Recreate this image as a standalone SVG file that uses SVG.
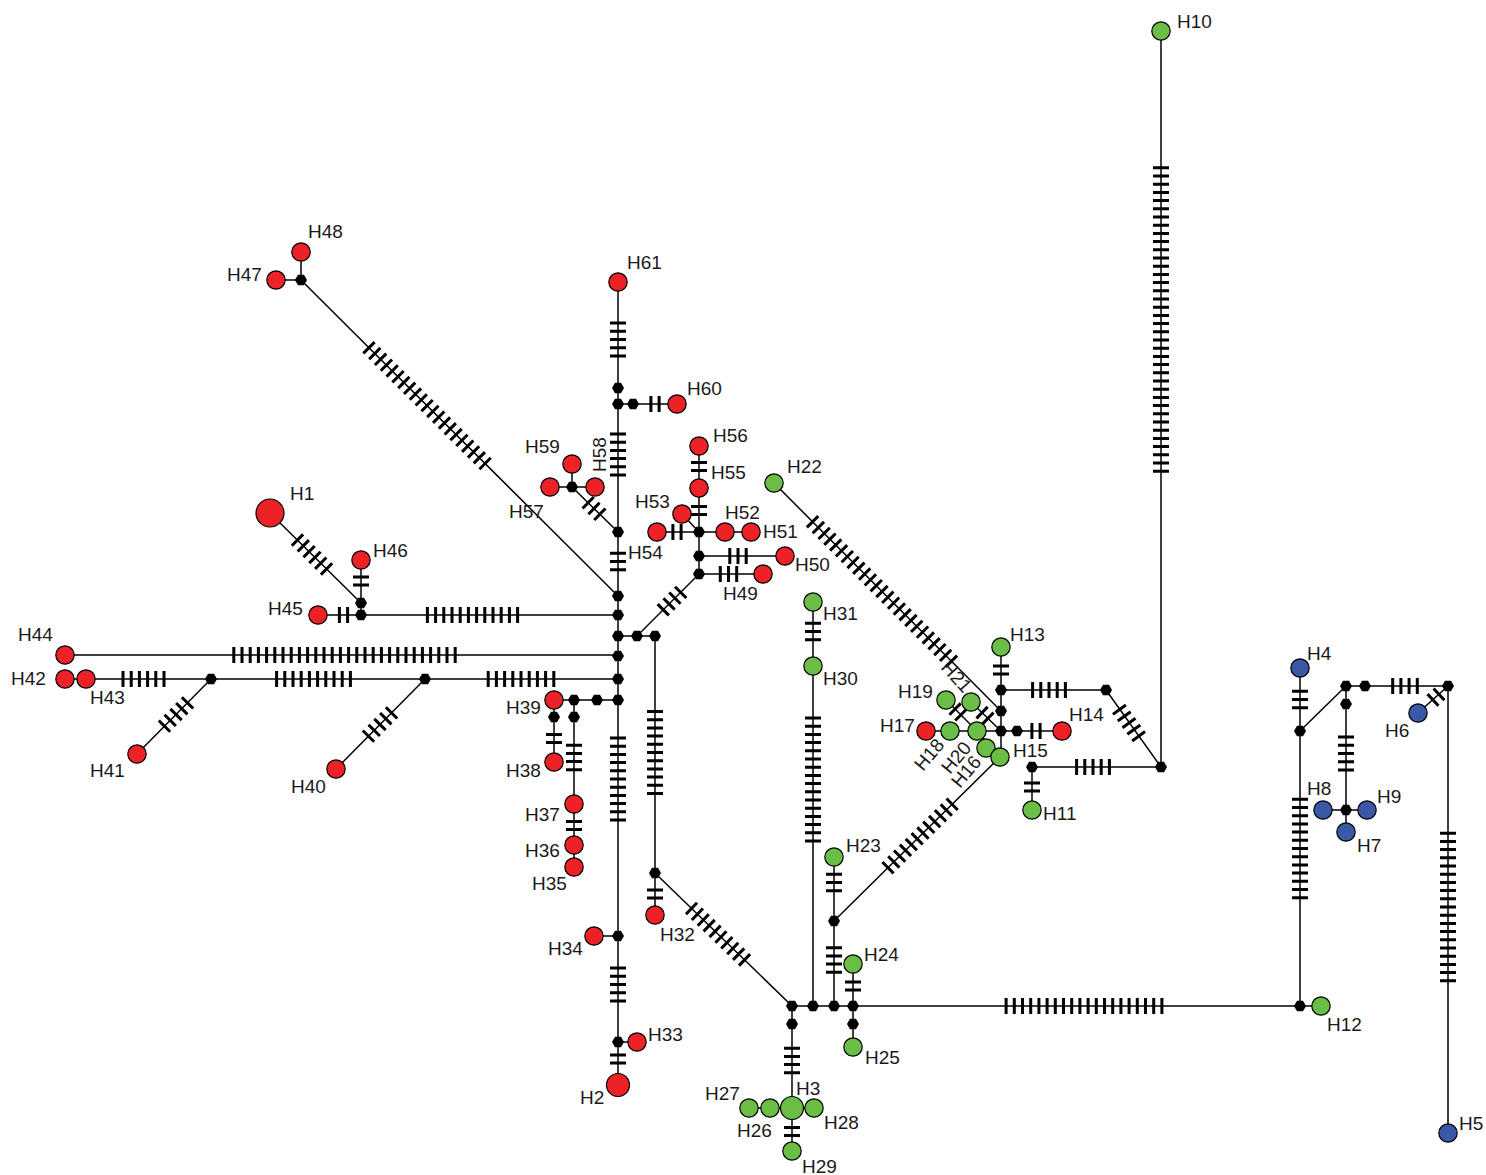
<svg xmlns="http://www.w3.org/2000/svg" width="1486" height="1175" viewBox="0 0 1486 1175">
<style>
.e{stroke:#000;stroke-width:1.5;fill:none}
.tk{stroke:#000;stroke-width:16;stroke-dasharray:3 5.2;fill:none}
.r{fill:#ec2227;stroke:#000;stroke-width:1.2}
.g{fill:#6abd45;stroke:#000;stroke-width:1.2}
.b{fill:#3a58a6;stroke:#000;stroke-width:1.2}
.mv{fill:#000}
text{font-family:"Liberation Sans",Arial,sans-serif;font-size:19px;fill:#1a1a1a}
</style>
<defs>
<polygon id="mv" points="-6,0 -3,-5.2 3,-5.2 6,0 3,5.2 -3,5.2"/>
</defs>
<rect width="1486" height="1175" fill="#fff"/>
<g id="connectors">
<line class="e" x1="618" y1="282" x2="618" y2="1085"/>
<line class="e" x1="618" y1="404" x2="677" y2="404"/>
<line class="e" x1="618" y1="532" x2="572" y2="487"/>
<line class="e" x1="572" y1="464" x2="572" y2="487"/>
<line class="e" x1="550" y1="487" x2="595" y2="487"/>
<line class="e" x1="618" y1="596" x2="301" y2="280"/>
<line class="e" x1="276" y1="280" x2="301" y2="280"/>
<line class="e" x1="301" y1="252" x2="301" y2="280"/>
<line class="e" x1="618" y1="615" x2="318" y2="615"/>
<line class="e" x1="361" y1="615" x2="361" y2="560"/>
<line class="e" x1="361" y1="603" x2="270" y2="513"/>
<line class="e" x1="618" y1="636" x2="655" y2="636"/>
<line class="e" x1="637" y1="636" x2="699" y2="574"/>
<line class="e" x1="655" y1="636" x2="655" y2="915"/>
<line class="e" x1="618" y1="655" x2="65" y2="655"/>
<line class="e" x1="618" y1="679" x2="65" y2="679"/>
<line class="e" x1="425" y1="679" x2="336" y2="769"/>
<line class="e" x1="211" y1="679" x2="137" y2="754"/>
<line class="e" x1="618" y1="700" x2="554" y2="700"/>
<line class="e" x1="574" y1="700" x2="574" y2="867"/>
<line class="e" x1="554" y1="700" x2="554" y2="762"/>
<line class="e" x1="618" y1="936" x2="594" y2="936"/>
<line class="e" x1="618" y1="1042" x2="637" y2="1042"/>
<line class="e" x1="699" y1="574" x2="699" y2="446"/>
<line class="e" x1="699" y1="574" x2="763" y2="574"/>
<line class="e" x1="699" y1="556" x2="785" y2="556"/>
<line class="e" x1="657" y1="532" x2="751" y2="532"/>
<line class="e" x1="699" y1="532" x2="682" y2="514"/>
<line class="e" x1="655" y1="873" x2="792" y2="1006"/>
<line class="e" x1="792" y1="1006" x2="1300" y2="1006"/>
<line class="e" x1="792" y1="1006" x2="792" y2="1151"/>
<line class="e" x1="749" y1="1108" x2="814" y2="1108"/>
<line class="e" x1="813" y1="1006" x2="813" y2="602"/>
<line class="e" x1="834" y1="1006" x2="834" y2="857"/>
<line class="e" x1="834" y1="921" x2="1000" y2="757"/>
<line class="e" x1="853" y1="1006" x2="853" y2="964"/>
<line class="e" x1="853" y1="1006" x2="853" y2="1047"/>
<line class="e" x1="1300" y1="1006" x2="1321" y2="1006"/>
<line class="e" x1="1300" y1="1006" x2="1300" y2="668"/>
<line class="e" x1="1300" y1="731" x2="1346" y2="686"/>
<line class="e" x1="1346" y1="686" x2="1448" y2="686"/>
<line class="e" x1="1448" y1="686" x2="1418" y2="713"/>
<line class="e" x1="1448" y1="686" x2="1448" y2="1133"/>
<line class="e" x1="1346" y1="686" x2="1346" y2="832"/>
<line class="e" x1="1323" y1="810" x2="1367" y2="810"/>
<line class="e" x1="1161" y1="31" x2="1161" y2="767"/>
<line class="e" x1="1032" y1="767" x2="1161" y2="767"/>
<line class="e" x1="1032" y1="767" x2="1032" y2="810"/>
<line class="e" x1="1001" y1="690" x2="1106" y2="690"/>
<line class="e" x1="1106" y1="690" x2="1161" y2="767"/>
<line class="e" x1="1001" y1="647" x2="1001" y2="757"/>
<line class="e" x1="774" y1="483" x2="1001" y2="711"/>
<line class="e" x1="926" y1="731" x2="1062" y2="731"/>
<line class="e" x1="946" y1="700" x2="977" y2="731"/>
<line class="e" x1="971" y1="702" x2="1001" y2="731"/>
<line class="e" x1="977" y1="731" x2="1000" y2="757"/>
</g>
<g id="mutations">
<line class="tk" x1="1161" y1="166.3" x2="1161" y2="472.7"/>
<line class="tk" x1="1001" y1="664.4" x2="1001" y2="675.6"/>
<line class="tk" x1="1031.1" y1="690" x2="1066.9" y2="690"/>
<line class="tk" x1="1118.5" y1="708.5" x2="1139.5" y2="737.5"/>
<line class="tk" x1="1075.1" y1="767" x2="1110.9" y2="767"/>
<line class="tk" x1="1032" y1="781.4" x2="1032" y2="792.6"/>
<line class="tk" x1="1030.4" y1="731" x2="1041.6" y2="731"/>
<line class="tk" x1="954" y1="708" x2="962" y2="716"/>
<line class="tk" x1="981" y1="711.6" x2="989" y2="719.4"/>
<line class="tk" x1="953.2" y1="803.2" x2="886.8" y2="868.8"/>
<line class="tk" x1="811.5" y1="520.7" x2="952.5" y2="662.3"/>
<line class="tk" x1="1300" y1="689.8" x2="1300" y2="709.2"/>
<line class="tk" x1="1300" y1="797.8" x2="1300" y2="899.2"/>
<line class="tk" x1="1391.2" y1="686" x2="1418.8" y2="686"/>
<line class="tk" x1="1440.1" y1="693.4" x2="1431.9" y2="701"/>
<line class="tk" x1="1346" y1="735.6" x2="1346" y2="771.4"/>
<line class="tk" x1="1448" y1="831.7" x2="1448" y2="982.3"/>
<line class="tk" x1="1004.6" y1="1006" x2="1163.4" y2="1006"/>
<line class="tk" x1="813" y1="716.5" x2="813" y2="842.5"/>
<line class="tk" x1="813" y1="621.8" x2="813" y2="641.2"/>
<line class="tk" x1="834" y1="872.8" x2="834" y2="892.2"/>
<line class="tk" x1="834" y1="946.2" x2="834" y2="973.8"/>
<line class="tk" x1="853" y1="980.4" x2="853" y2="991.6"/>
<line class="tk" x1="792" y1="1046.7" x2="792" y2="1074.3"/>
<line class="tk" x1="792" y1="1125.9" x2="792" y2="1137.1"/>
<line class="tk" x1="690.4" y1="907.5" x2="745.6" y2="960.9"/>
<line class="tk" x1="655" y1="888.4" x2="655" y2="899.6"/>
<line class="tk" x1="655" y1="710" x2="655" y2="795"/>
<line class="tk" x1="618" y1="736.5" x2="618" y2="821.5"/>
<line class="tk" x1="574" y1="743.7" x2="574" y2="771.3"/>
<line class="tk" x1="574" y1="819.9" x2="574" y2="831.1"/>
<line class="tk" x1="554" y1="732.9" x2="554" y2="744.1"/>
<line class="tk" x1="486.7" y1="679" x2="555.3" y2="679"/>
<line class="tk" x1="275.1" y1="679" x2="351.9" y2="679"/>
<line class="tk" x1="121.5" y1="679" x2="165.5" y2="679"/>
<line class="tk" x1="188.6" y1="701.8" x2="163.4" y2="727.2"/>
<line class="tk" x1="392.6" y1="711.8" x2="367.4" y2="737.2"/>
<line class="tk" x1="232.3" y1="655" x2="456.7" y2="655"/>
<line class="tk" x1="425.9" y1="615" x2="519.1" y2="615"/>
<line class="tk" x1="337.9" y1="615" x2="349.1" y2="615"/>
<line class="tk" x1="361" y1="575.4" x2="361" y2="586.6"/>
<line class="tk" x1="296.4" y1="539" x2="327.6" y2="570"/>
<line class="tk" x1="367.9" y1="346.7" x2="486.1" y2="464.5"/>
<line class="tk" x1="600.9" y1="515.3" x2="587.1" y2="501.7"/>
<line class="tk" x1="618" y1="432.5" x2="618" y2="476.5"/>
<line class="tk" x1="618" y1="551.8" x2="618" y2="571.2"/>
<line class="tk" x1="618" y1="321.6" x2="618" y2="357.4"/>
<line class="tk" x1="649.4" y1="404" x2="660.6" y2="404"/>
<line class="tk" x1="699" y1="460.9" x2="699" y2="472.1"/>
<line class="tk" x1="699" y1="504.9" x2="699" y2="516.1"/>
<line class="tk" x1="671.4" y1="532" x2="682.6" y2="532"/>
<line class="tk" x1="728.3" y1="556" x2="747.7" y2="556"/>
<line class="tk" x1="718.8" y1="574" x2="738.2" y2="574"/>
<line class="tk" x1="662.2" y1="610.8" x2="681.8" y2="591.2"/>
<line class="tk" x1="618" y1="966.6" x2="618" y2="1002.4"/>
<line class="tk" x1="618" y1="1053.4" x2="618" y2="1064.6"/>
</g>
<g id="medians" class="mv">
<use id="mv1" href="#mv" x="618" y="388"/>
<use id="mv2" href="#mv" x="618" y="404"/>
<use id="mv3" href="#mv" x="633" y="404"/>
<use id="mv4" href="#mv" x="618" y="532"/>
<use id="mv5" href="#mv" x="618" y="596"/>
<use id="mv6" href="#mv" x="618" y="615"/>
<use id="mv7" href="#mv" x="618" y="636"/>
<use id="mv8" href="#mv" x="637" y="636"/>
<use id="mv9" href="#mv" x="655" y="636"/>
<use id="mv10" href="#mv" x="618" y="656"/>
<use id="mv11" href="#mv" x="618" y="679"/>
<use id="mv12" href="#mv" x="618" y="700"/>
<use id="mv13" href="#mv" x="597" y="700"/>
<use id="mv14" href="#mv" x="574" y="700"/>
<use id="mv15" href="#mv" x="574" y="717"/>
<use id="mv16" href="#mv" x="554" y="717"/>
<use id="mv17" href="#mv" x="618" y="936"/>
<use id="mv18" href="#mv" x="618" y="1042"/>
<use id="mv19" href="#mv" x="572" y="487"/>
<use id="mv20" href="#mv" x="301" y="280"/>
<use id="mv21" href="#mv" x="361" y="603"/>
<use id="mv22" href="#mv" x="361" y="615"/>
<use id="mv23" href="#mv" x="425" y="679"/>
<use id="mv24" href="#mv" x="211" y="679"/>
<use id="mv25" href="#mv" x="699" y="574"/>
<use id="mv26" href="#mv" x="699" y="556"/>
<use id="mv27" href="#mv" x="699" y="532"/>
<use id="mv28" href="#mv" x="655" y="873"/>
<use id="mv29" href="#mv" x="792" y="1006"/>
<use id="mv30" href="#mv" x="813" y="1006"/>
<use id="mv31" href="#mv" x="834" y="1006"/>
<use id="mv32" href="#mv" x="853" y="1006"/>
<use id="mv33" href="#mv" x="792" y="1024"/>
<use id="mv34" href="#mv" x="853" y="1024"/>
<use id="mv35" href="#mv" x="834" y="921"/>
<use id="mv36" href="#mv" x="1300" y="1006"/>
<use id="mv37" href="#mv" x="1300" y="731"/>
<use id="mv38" href="#mv" x="1346" y="686"/>
<use id="mv39" href="#mv" x="1365" y="686"/>
<use id="mv40" href="#mv" x="1448" y="686"/>
<use id="mv41" href="#mv" x="1346" y="704"/>
<use id="mv42" href="#mv" x="1346" y="810"/>
<use id="mv43" href="#mv" x="1161" y="767"/>
<use id="mv44" href="#mv" x="1032" y="767"/>
<use id="mv45" href="#mv" x="1106" y="690"/>
<use id="mv46" href="#mv" x="1001" y="690"/>
<use id="mv47" href="#mv" x="1001" y="711"/>
<use id="mv48" href="#mv" x="1001" y="731"/>
<use id="mv49" href="#mv" x="1017" y="731"/>
</g>
<g id="haplotypes">
<g id="H1"><circle class="r" cx="270" cy="513" r="14"/><text x="290" y="500">H1</text></g>
<g id="H2"><circle class="r" cx="618" cy="1085" r="11.5"/><text x="580" y="1104">H2</text></g>
<g id="H3"><circle class="g" cx="792" cy="1108" r="11.5"/><text x="796" y="1095">H3</text></g>
<g id="H4"><circle class="b" cx="1300" cy="668" r="9.2"/><text x="1307" y="660">H4</text></g>
<g id="H5"><circle class="b" cx="1448" cy="1133" r="9.2"/><text x="1459" y="1130">H5</text></g>
<g id="H6"><circle class="b" cx="1418" cy="713" r="9.2"/><text x="1385" y="737">H6</text></g>
<g id="H7"><circle class="b" cx="1346" cy="832" r="9.2"/><text x="1357" y="852">H7</text></g>
<g id="H8"><circle class="b" cx="1323" cy="810" r="9.2"/><text x="1307" y="795">H8</text></g>
<g id="H9"><circle class="b" cx="1367" cy="810" r="9.2"/><text x="1377" y="803">H9</text></g>
<g id="H10"><circle class="g" cx="1161" cy="31" r="9.2"/><text x="1177" y="28">H10</text></g>
<g id="H11"><circle class="g" cx="1032" cy="810" r="9.2"/><text x="1043" y="820">H11</text></g>
<g id="H12"><circle class="g" cx="1321" cy="1006" r="9.2"/><text x="1327" y="1031">H12</text></g>
<g id="H13"><circle class="g" cx="1001" cy="647" r="9.2"/><text x="1010" y="641">H13</text></g>
<g id="H14"><circle class="r" cx="1062" cy="731" r="9.2"/><text x="1069" y="721">H14</text></g>
<g id="H16"><circle class="g" cx="986" cy="748" r="9.2"/><text transform="translate(960,789) rotate(-50)">H16</text></g>
<g id="H15"><circle class="g" cx="1000" cy="757" r="9.2"/><text x="1013" y="757">H15</text></g>
<g id="H17"><circle class="r" cx="926" cy="731" r="9.2"/><text x="880" y="732">H17</text></g>
<g id="H18"><circle class="g" cx="950" cy="731" r="9.2"/><text transform="translate(923,772) rotate(-50)">H18</text></g>
<g id="H19"><circle class="g" cx="946" cy="700" r="9.2"/><text x="898" y="698">H19</text></g>
<g id="H20"><circle class="g" cx="977" cy="731" r="9.2"/><text transform="translate(950,775) rotate(-50)">H20</text></g>
<g id="H21"><circle class="g" cx="971" cy="702" r="9.2"/><text transform="translate(940,668) rotate(48)">H21</text></g>
<g id="H22"><circle class="g" cx="774" cy="483" r="9.2"/><text x="787" y="473">H22</text></g>
<g id="H23"><circle class="g" cx="834" cy="857" r="9.2"/><text x="846" y="852">H23</text></g>
<g id="H24"><circle class="g" cx="853" cy="964" r="9.2"/><text x="864" y="961">H24</text></g>
<g id="H25"><circle class="g" cx="853" cy="1047" r="9.2"/><text x="865" y="1064">H25</text></g>
<g id="H26"><circle class="g" cx="770" cy="1108" r="9.2"/><text x="737" y="1137">H26</text></g>
<g id="H27"><circle class="g" cx="749" cy="1108" r="9.2"/><text x="705" y="1100">H27</text></g>
<g id="H28"><circle class="g" cx="814" cy="1108" r="9.2"/><text x="824" y="1129">H28</text></g>
<g id="H29"><circle class="g" cx="792" cy="1151" r="9.2"/><text x="802" y="1173">H29</text></g>
<g id="H30"><circle class="g" cx="813" cy="666" r="9.2"/><text x="823" y="685">H30</text></g>
<g id="H31"><circle class="g" cx="813" cy="602" r="9.2"/><text x="823" y="620">H31</text></g>
<g id="H32"><circle class="r" cx="655" cy="915" r="9.2"/><text x="660" y="941">H32</text></g>
<g id="H33"><circle class="r" cx="637" cy="1042" r="9.2"/><text x="648" y="1041">H33</text></g>
<g id="H34"><circle class="r" cx="594" cy="936" r="9.2"/><text x="548" y="955">H34</text></g>
<g id="H35"><circle class="r" cx="574" cy="867" r="9.2"/><text x="532" y="890">H35</text></g>
<g id="H36"><circle class="r" cx="574" cy="845" r="9.2"/><text x="525" y="857">H36</text></g>
<g id="H37"><circle class="r" cx="574" cy="804" r="9.2"/><text x="525" y="821">H37</text></g>
<g id="H38"><circle class="r" cx="554" cy="762" r="9.2"/><text x="506" y="777">H38</text></g>
<g id="H39"><circle class="r" cx="554" cy="700" r="9.2"/><text x="506" y="714">H39</text></g>
<g id="H40"><circle class="r" cx="336" cy="769" r="9.2"/><text x="291" y="793">H40</text></g>
<g id="H41"><circle class="r" cx="137" cy="754" r="9.2"/><text x="90" y="777">H41</text></g>
<g id="H42"><circle class="r" cx="65" cy="679" r="9.2"/><text x="11" y="685">H42</text></g>
<g id="H43"><circle class="r" cx="86" cy="679" r="9.2"/><text x="90" y="704">H43</text></g>
<g id="H44"><circle class="r" cx="65" cy="655" r="9.2"/><text x="18" y="641">H44</text></g>
<g id="H45"><circle class="r" cx="318" cy="615" r="9.2"/><text x="268" y="615">H45</text></g>
<g id="H46"><circle class="r" cx="361" cy="560" r="9.2"/><text x="373" y="557">H46</text></g>
<g id="H47"><circle class="r" cx="276" cy="280" r="9.2"/><text x="227" y="281">H47</text></g>
<g id="H48"><circle class="r" cx="301" cy="252" r="9.2"/><text x="308" y="238">H48</text></g>
<g id="H49"><circle class="r" cx="763" cy="574" r="9.2"/><text x="723" y="600">H49</text></g>
<g id="H50"><circle class="r" cx="785" cy="556" r="9.2"/><text x="795" y="571">H50</text></g>
<g id="H51"><circle class="r" cx="751" cy="532" r="9.2"/><text x="763" y="538">H51</text></g>
<g id="H52"><circle class="r" cx="725" cy="532" r="9.2"/><text x="725" y="519">H52</text></g>
<g id="H53"><circle class="r" cx="682" cy="514" r="9.2"/><text x="635" y="508">H53</text></g>
<g id="H54"><circle class="r" cx="657" cy="532" r="9.2"/><text x="628" y="559">H54</text></g>
<g id="H55"><circle class="r" cx="699" cy="488" r="9.2"/><text x="711" y="479">H55</text></g>
<g id="H56"><circle class="r" cx="699" cy="446" r="9.2"/><text x="713" y="442">H56</text></g>
<g id="H57"><circle class="r" cx="550" cy="487" r="9.2"/><text x="509" y="518">H57</text></g>
<g id="H58"><circle class="r" cx="595" cy="487" r="9.2"/><text transform="translate(606,472) rotate(-90)">H58</text></g>
<g id="H59"><circle class="r" cx="572" cy="464" r="9.2"/><text x="525" y="453">H59</text></g>
<g id="H60"><circle class="r" cx="677" cy="404" r="9.2"/><text x="687" y="395">H60</text></g>
<g id="H61"><circle class="r" cx="618" cy="282" r="9.2"/><text x="627" y="269">H61</text></g>
</g>
</svg>
